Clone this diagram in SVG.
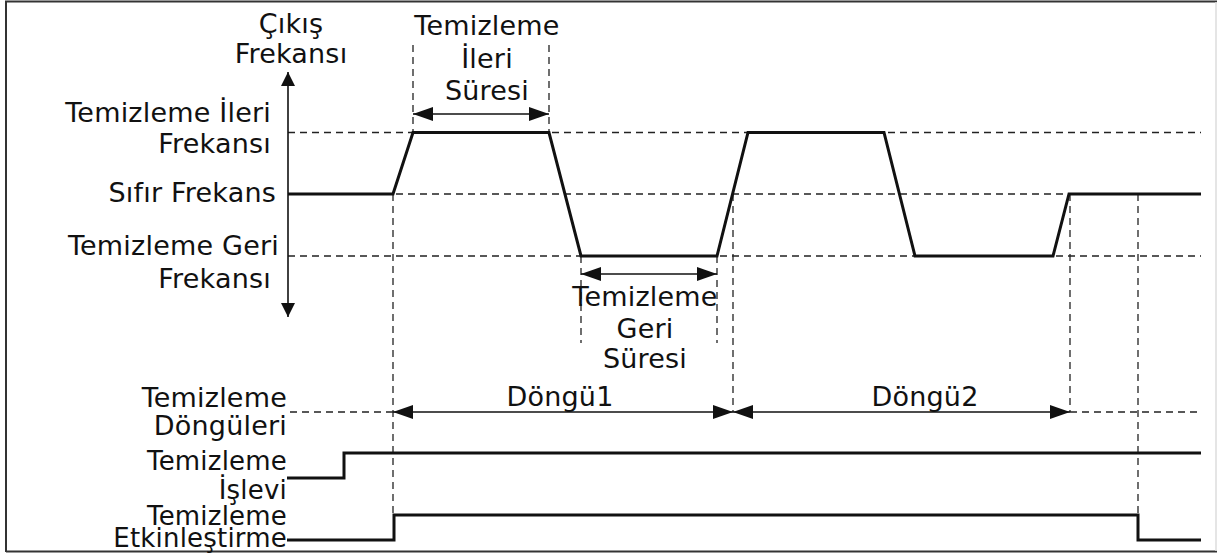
<svg xmlns="http://www.w3.org/2000/svg" width="1217" height="553" viewBox="0 0 1217 553">
<style>
text{font-family:"DejaVu Sans","Liberation Sans",sans-serif;font-size:27px;letter-spacing:0.2px;fill:#111}
.r{text-anchor:end}
.m{text-anchor:middle}
.sm{font-size:26px}
.dash{fill:none;stroke:#222;stroke-width:1.3;stroke-dasharray:7 5}
.wave{fill:none;stroke:#111;stroke-width:3;stroke-linejoin:miter}
.dim{fill:none;stroke:#111;stroke-width:1.5;marker-start:url(#ah);marker-end:url(#ah)}
</style>
<defs>
<marker id="ah" viewBox="0 0 20 14" refX="20" refY="7" markerWidth="20" markerHeight="14" markerUnits="userSpaceOnUse" orient="auto-start-reverse"><path d="M0,0 L20,7 L0,14 z" fill="#111"/></marker>
<marker id="ax" viewBox="0 0 14 14" refX="14" refY="7" markerWidth="14" markerHeight="14" markerUnits="userSpaceOnUse" orient="auto-start-reverse"><path d="M0,0 L14,7 L0,14 z" fill="#111"/></marker>
</defs>
<rect x="0" y="0" width="1217" height="553" fill="#fff"/>
<path d="M6,552 V1.5 H1217 M6,551.5 H1217" fill="none" stroke="#333" stroke-width="2"/>
<line x1="1216" y1="2" x2="1216" y2="551" stroke="#ddd" stroke-width="1.5"/>

<g id="guides">
<path class="dash" d="M288,132.5 H1201 M288,194 H1201 M288,256 H1201"/>
<path class="dash" d="M413,45 V132 M549,45 V132"/>
<path class="dash" d="M581,256 V343 M717,256 V343"/>
<path class="dash" d="M393,194 V515 M733,194 V412 M1070,194 V412 M1138,194 V515"/>
<path class="dash" d="M290,412 H393 M1070,412 H1201"/>
</g>

<g id="axis">
<line x1="288" y1="72" x2="288" y2="317" stroke="#111" stroke-width="1.6" marker-start="url(#ax)" marker-end="url(#ax)"/>
<text class="m" x="291" y="33">Çıkış</text>
<text class="m" x="291" y="63">Frekansı</text>
</g>

<g id="labels-freq">
<text class="r" x="271" y="122">Temizleme İleri</text>
<text class="r" x="271" y="153">Frekansı</text>
<text class="r" x="276" y="202">Sıfır Frekans</text>
<text class="r" x="279" y="255">Temizleme Geri</text>
<text class="r" x="271" y="288">Frekansı</text>
</g>

<g id="labels-signals">
<text class="r" x="287" y="407">Temizleme</text>
<text class="r" x="287" y="435">Döngüleri</text>
<text class="r sm" x="287" y="470">Temizleme</text>
<text class="r sm" x="287" y="499">İşlevi</text>
<text class="r sm" x="287" y="525">Temizleme</text>
<text class="r sm" x="287" y="547">Etkinleştirme</text>
</g>

<g id="waveform">
<polyline class="wave" points="288,194 393,194 413,132.5 549,132.5 581,256 717,256 748,132.5 884,132.5 915,256 1053,256 1069,194 1201,194"/>
</g>

<g id="islevi">
<path class="wave" d="M287,478 H344 V453 H1201"/>
</g>

<g id="etkinlestirme">
<path class="wave" d="M287,540 H394 V515 H1138 V540 H1201"/>
</g>

<g id="connectors">
<line class="dim" x1="413" y1="114" x2="549" y2="114"/>
<line class="dim" x1="581" y1="274" x2="717" y2="274"/>
<line class="dim" x1="393" y1="412" x2="733" y2="412"/>
<line class="dim" x1="733" y1="412" x2="1070" y2="412"/>
</g>

<g id="ileri-suresi">
<text class="m" x="487" y="35">Temizleme</text>
<text class="m" x="487" y="68">İleri</text>
<text class="m" x="487" y="100">Süresi</text>
</g>

<g id="geri-suresi">
<text class="m" x="645" y="306">Temizleme</text>
<text class="m" x="645" y="338">Geri</text>
<text class="m" x="645" y="368">Süresi</text>
</g>

<g id="dongu">
<text class="m" x="560" y="406">Döngü1</text>
<text class="m" x="925" y="406">Döngü2</text>
</g>
</svg>
